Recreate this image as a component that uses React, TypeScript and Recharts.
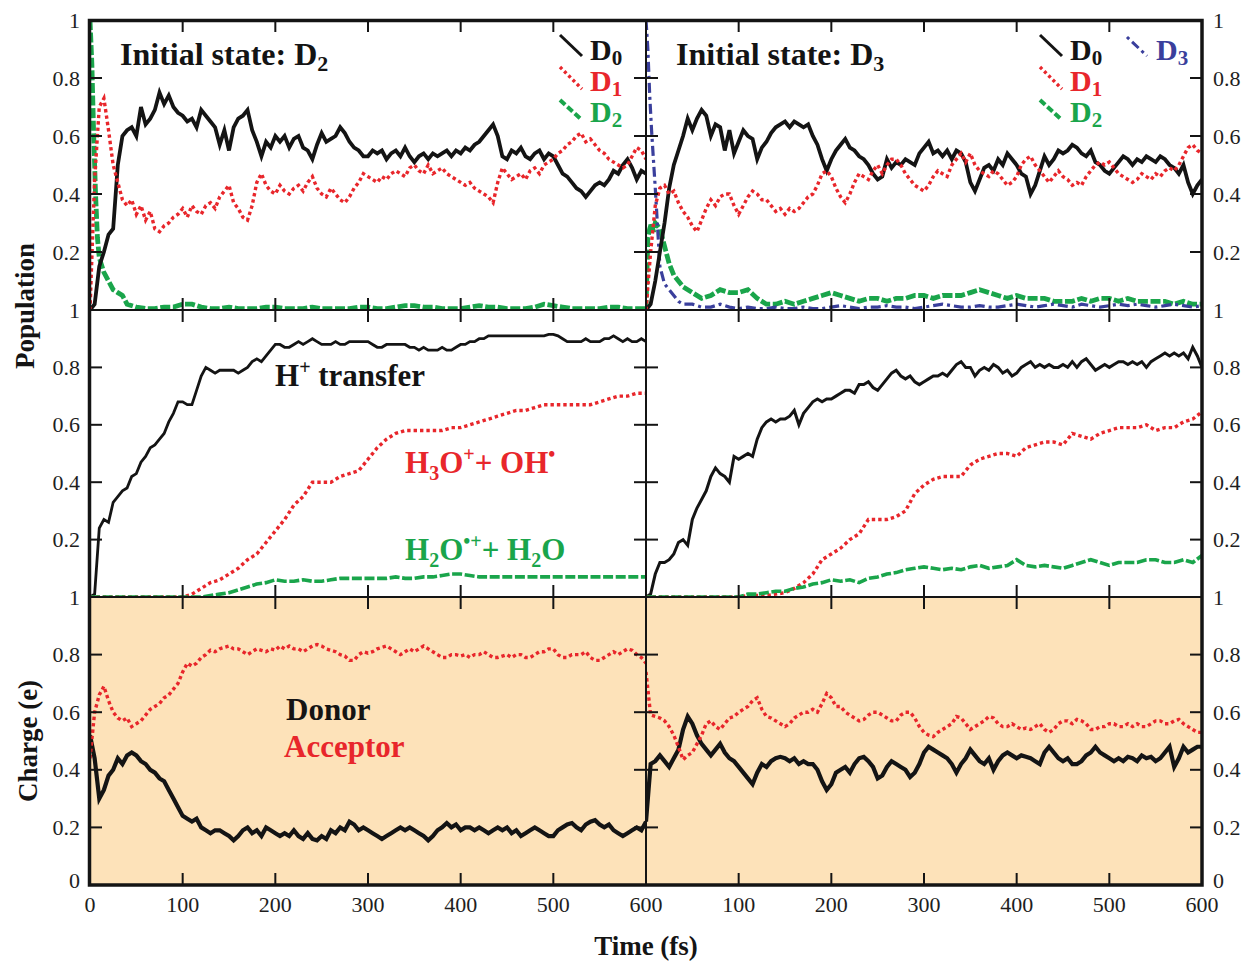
import React from "react";
import { LineChart, Line, XAxis, YAxis, CartesianGrid } from "recharts";

// ---------- time grids (fs) ----------
const T5 = Array.from({ length: 121 }, (_, i) => i * 5);
const T10 = Array.from({ length: 61 }, (_, i) => i * 10);
const TG = [0, 2, 4, 6, 8, 10, 15, 20, 25, 30, 35, 40, ...Array.from({ length: 56 }, (_, i) => 50 + i * 10)];

const X_TICKS = [0, 100, 200, 300, 400, 500, 600];
const Y_TICKS = [0, 0.2, 0.4, 0.6, 0.8, 1];
const Y_LABELS_TOP = [0.2, 0.4, 0.6, 0.8, 1];
const Y_LABELS_BOTTOM = [0, 0.2, 0.4, 0.6, 0.8, 1];
const X_LABELS_LEFT = [0, 100, 200, 300, 400, 500, 600];
const X_LABELS_RIGHT = [100, 200, 300, 400, 500, 600];

// ---------- Initial state D2 : populations (T5 / TG) ----------
const D2_D0 = [
  0, 0.02, 0.15, 0.2, 0.26, 0.28, 0.5, 0.6, 0.62, 0.63,
  0.6, 0.7, 0.64, 0.66, 0.69, 0.75, 0.71, 0.74, 0.7, 0.68,
  0.67, 0.65, 0.66, 0.63, 0.69, 0.67, 0.65, 0.63, 0.57, 0.62,
  0.55, 0.63, 0.66, 0.67, 0.69, 0.62, 0.58, 0.53, 0.58, 0.56,
  0.6, 0.58, 0.6, 0.56, 0.59, 0.6, 0.56, 0.55, 0.52, 0.57,
  0.61, 0.58, 0.59, 0.6, 0.63, 0.61, 0.58, 0.56, 0.55, 0.53,
  0.53, 0.55, 0.54, 0.55, 0.52, 0.54, 0.55, 0.53, 0.56, 0.53,
  0.51, 0.53, 0.54, 0.52, 0.54, 0.53, 0.54, 0.55, 0.53, 0.55,
  0.54, 0.56, 0.55, 0.57, 0.58, 0.6, 0.62, 0.64, 0.6, 0.53,
  0.52, 0.55, 0.54, 0.56, 0.53, 0.52, 0.54, 0.55, 0.52, 0.54,
  0.53, 0.5, 0.47, 0.46, 0.44, 0.42, 0.41, 0.39, 0.41, 0.43,
  0.44, 0.43, 0.45, 0.48, 0.47, 0.5, 0.52, 0.49, 0.45, 0.48,
  0.47,
];
const D2_D1 = [
  0, 0.45, 0.7, 0.73, 0.62, 0.5, 0.44, 0.38, 0.36, 0.38,
  0.33, 0.36, 0.31, 0.34, 0.28, 0.27, 0.29, 0.3, 0.32, 0.33,
  0.35, 0.32, 0.36, 0.34, 0.33, 0.36, 0.37, 0.35, 0.39, 0.41,
  0.43, 0.37, 0.35, 0.32, 0.31, 0.36, 0.44, 0.47, 0.43, 0.41,
  0.4, 0.43, 0.41, 0.4, 0.42, 0.43, 0.41, 0.44, 0.46, 0.42,
  0.4, 0.39, 0.42, 0.4, 0.38, 0.37, 0.39, 0.42, 0.44, 0.47,
  0.46, 0.45, 0.44, 0.46, 0.45, 0.47, 0.48, 0.47, 0.46, 0.49,
  0.5, 0.48, 0.47, 0.5, 0.47, 0.48, 0.49, 0.47, 0.46, 0.45,
  0.44, 0.43, 0.44, 0.42, 0.41, 0.4, 0.39, 0.37, 0.44, 0.49,
  0.47, 0.45, 0.46, 0.47, 0.45, 0.48, 0.49, 0.47, 0.5, 0.51,
  0.52, 0.54, 0.55, 0.57, 0.58, 0.6, 0.61, 0.58, 0.59, 0.57,
  0.55, 0.54, 0.52, 0.51, 0.5, 0.49, 0.5, 0.53, 0.56, 0.55,
  0.52,
];
const D2_D2 = [
  1.0, 0.85, 0.6, 0.4, 0.25, 0.18, 0.13, 0.1, 0.07, 0.06, 0.05, 0.02,
  0.01, 0.005, 0.005, 0.01, 0.01, 0.02, 0.02, 0.01, 0.005, 0.005,
  0.01, 0.005, 0.005, 0.005, 0.01, 0.01, 0.005, 0.005, 0.005, 0.01,
  0.005, 0.005, 0.005, 0.005, 0.01, 0.01, 0.005, 0.005, 0.01, 0.015,
  0.015, 0.01, 0.01, 0.005, 0.005, 0.005, 0.01, 0.015, 0.01, 0.01,
  0.005, 0.005, 0.005, 0.01, 0.02, 0.015, 0.01, 0.005, 0.005, 0.005,
  0.005, 0.01, 0.01, 0.005, 0.005, 0.005,
];

// ---------- Initial state D3 : populations ----------
const D3_D0 = [
  0, 0.02, 0.1, 0.2, 0.3, 0.42, 0.5, 0.55, 0.6, 0.66,
  0.62, 0.66, 0.69, 0.67, 0.6, 0.64, 0.63, 0.55, 0.62, 0.54,
  0.58, 0.62, 0.6, 0.59, 0.52, 0.56, 0.58, 0.61, 0.63, 0.64,
  0.65, 0.63, 0.65, 0.64, 0.63, 0.64, 0.6, 0.57, 0.52, 0.48,
  0.52, 0.55, 0.57, 0.59, 0.56, 0.55, 0.53, 0.52, 0.5, 0.47,
  0.45, 0.46, 0.52, 0.49, 0.51, 0.5, 0.52, 0.51, 0.5, 0.54,
  0.56, 0.58, 0.54, 0.55, 0.53, 0.55, 0.52, 0.55, 0.54, 0.51,
  0.44, 0.41, 0.45, 0.49, 0.5, 0.48, 0.52, 0.5, 0.54, 0.52,
  0.5, 0.47, 0.46, 0.4, 0.43, 0.48, 0.53, 0.5, 0.52, 0.55,
  0.54, 0.55, 0.57, 0.56, 0.54, 0.53, 0.55, 0.51, 0.5, 0.48,
  0.47, 0.49, 0.51, 0.53, 0.52, 0.5, 0.52, 0.51, 0.53, 0.52,
  0.51, 0.53, 0.52, 0.5, 0.49, 0.47, 0.5, 0.44, 0.4, 0.43,
  0.45,
];
const D3_D1 = [
  0, 0.2, 0.36, 0.42, 0.43, 0.4, 0.41, 0.37, 0.34, 0.32,
  0.29, 0.27, 0.31, 0.35, 0.38, 0.36, 0.39, 0.4, 0.4, 0.36,
  0.33, 0.36, 0.39, 0.41, 0.4, 0.38, 0.38, 0.36, 0.34, 0.35,
  0.33, 0.35, 0.34, 0.35, 0.37, 0.39, 0.4, 0.43, 0.47, 0.48,
  0.46, 0.42, 0.39, 0.37, 0.4, 0.44, 0.47, 0.46, 0.45, 0.48,
  0.5, 0.47, 0.5, 0.52, 0.52, 0.5, 0.47, 0.45, 0.43, 0.42,
  0.41, 0.43, 0.46, 0.48, 0.47, 0.46, 0.5, 0.52, 0.54, 0.51,
  0.54, 0.5, 0.48, 0.47, 0.46, 0.48, 0.47, 0.45, 0.43, 0.44,
  0.46, 0.5, 0.52, 0.53, 0.5, 0.48, 0.46, 0.44, 0.46, 0.48,
  0.46, 0.45, 0.43, 0.44, 0.43, 0.46, 0.48, 0.5, 0.51, 0.5,
  0.51, 0.49, 0.47, 0.46, 0.45, 0.44, 0.45, 0.47, 0.46, 0.45,
  0.47, 0.46, 0.48, 0.49, 0.48, 0.5, 0.53, 0.56, 0.57, 0.55,
  0.54,
];
const D3_D2 = [
  0, 0.25, 0.28, 0.3, 0.27, 0.3, 0.28, 0.22, 0.16, 0.12, 0.1, 0.08,
  0.06, 0.04, 0.05, 0.07, 0.06, 0.06, 0.07, 0.04, 0.02, 0.02,
  0.03, 0.02, 0.03, 0.04, 0.05, 0.06, 0.05, 0.04, 0.03, 0.04,
  0.04, 0.03, 0.04, 0.04, 0.05, 0.05, 0.04, 0.05, 0.05, 0.05,
  0.06, 0.07, 0.06, 0.05, 0.04, 0.05, 0.04, 0.04, 0.04, 0.03,
  0.03, 0.03, 0.04, 0.03, 0.04, 0.04, 0.03, 0.04, 0.03, 0.03,
  0.03, 0.03, 0.02, 0.03, 0.02, 0.02,
];
const D3_D3 = [
  1.0, 0.9, 0.74, 0.62, 0.52, 0.42, 0.15, 0.09, 0.07, 0.05, 0.03, 0.02,
  0.02, 0.01, 0.01, 0.02, 0.01, 0.005, 0.01, 0.005, 0.005, 0.01,
  0.005, 0.005, 0.01, 0.005, 0.005, 0.01, 0.015, 0.01, 0.005, 0.01,
  0.01, 0.015, 0.01, 0.01, 0.005, 0.01, 0.015, 0.02, 0.015, 0.01,
  0.01, 0.015, 0.01, 0.01, 0.015, 0.02, 0.015, 0.01, 0.015, 0.02,
  0.015, 0.01, 0.02, 0.015, 0.01, 0.015, 0.02, 0.015, 0.02, 0.015,
  0.01, 0.015, 0.02, 0.015, 0.01, 0.015,
];

// ---------- product populations ----------
const D2_HT = [
  0, 0.01, 0.24, 0.27, 0.26, 0.33, 0.35, 0.37, 0.38, 0.42,
  0.43, 0.47, 0.49, 0.52, 0.53, 0.55, 0.57, 0.61, 0.64, 0.68,
  0.68, 0.67, 0.67, 0.72, 0.77, 0.8, 0.79, 0.78, 0.79, 0.79,
  0.79, 0.79, 0.78, 0.79, 0.8, 0.82, 0.83, 0.82, 0.84, 0.86,
  0.88, 0.88, 0.87, 0.87, 0.88, 0.89, 0.88, 0.89, 0.9, 0.89,
  0.88, 0.88, 0.88, 0.89, 0.88, 0.88, 0.89, 0.89, 0.89, 0.89,
  0.89, 0.88, 0.87, 0.87, 0.88, 0.88, 0.88, 0.88, 0.88, 0.87,
  0.87, 0.86, 0.87, 0.86, 0.86, 0.86, 0.87, 0.86, 0.86, 0.87,
  0.88, 0.88, 0.89, 0.89, 0.9, 0.9, 0.91, 0.91, 0.91, 0.91,
  0.91, 0.91, 0.91, 0.91, 0.91, 0.91, 0.91, 0.91, 0.91, 0.915,
  0.915, 0.91, 0.9, 0.89, 0.89, 0.89, 0.89, 0.9, 0.89, 0.89,
  0.89, 0.9, 0.9, 0.91, 0.9, 0.89, 0.9, 0.89, 0.89, 0.9,
  0.89,
];
const D2_H3O = [
  0, 0, 0, 0, 0, 0, 0, 0, 0, 0, 0,
  0.01, 0.03, 0.05, 0.06, 0.08, 0.1, 0.13, 0.15, 0.19, 0.23,
  0.27, 0.32, 0.35, 0.4, 0.4, 0.4, 0.42, 0.43, 0.44, 0.48,
  0.52, 0.55, 0.57, 0.58, 0.58, 0.58, 0.58, 0.58, 0.59, 0.59,
  0.6, 0.61, 0.62, 0.63, 0.64, 0.65, 0.65, 0.66, 0.67, 0.67,
  0.67, 0.67, 0.67, 0.67, 0.68, 0.69, 0.7, 0.7, 0.71, 0.71,
];
const D2_H2O = [
  0, 0, 0, 0, 0, 0, 0, 0, 0, 0, 0, 0, 0,
  0.005, 0.01, 0.015, 0.025, 0.035, 0.045, 0.05, 0.06,
  0.055, 0.055, 0.06, 0.055, 0.055, 0.06,
  0.065, 0.065, 0.065, 0.065, 0.065, 0.065, 0.07, 0.065, 0.065, 0.07,
  0.07, 0.075, 0.08, 0.08, 0.075, 0.07,
  0.07, 0.07, 0.07, 0.07, 0.07, 0.07, 0.07, 0.07, 0.07, 0.07, 0.07, 0.07, 0.07, 0.07, 0.07, 0.07, 0.07, 0.07,
];
const D3_HT = [
  0, 0.01, 0.08, 0.12, 0.12, 0.13, 0.15, 0.19, 0.2, 0.18,
  0.27, 0.31, 0.34, 0.37, 0.42, 0.45, 0.43, 0.42, 0.4, 0.49,
  0.48, 0.49, 0.5, 0.49, 0.55, 0.59, 0.61, 0.62, 0.61, 0.62,
  0.62, 0.63, 0.65, 0.6, 0.64, 0.66, 0.68, 0.69, 0.68, 0.69,
  0.69, 0.7, 0.71, 0.72, 0.72, 0.71, 0.74, 0.74, 0.75, 0.73,
  0.72, 0.74, 0.76, 0.78, 0.79, 0.77, 0.76, 0.77, 0.75, 0.74,
  0.75, 0.76, 0.77, 0.77, 0.78, 0.77, 0.79, 0.81, 0.82, 0.8,
  0.8, 0.77, 0.79, 0.8, 0.79, 0.81, 0.8, 0.78, 0.79, 0.77,
  0.78, 0.8, 0.81, 0.82, 0.8, 0.81, 0.8, 0.81, 0.8, 0.8,
  0.81, 0.8, 0.82, 0.8, 0.82, 0.83, 0.81, 0.79, 0.8, 0.81,
  0.8, 0.81, 0.82, 0.82, 0.81, 0.82, 0.81, 0.82, 0.8, 0.82,
  0.83, 0.84, 0.85, 0.84, 0.85, 0.84, 0.85, 0.83, 0.87, 0.84,
  0.8,
];
const D3_H3O = [
  0, 0, 0, 0, 0, 0, 0, 0, 0, 0, 0,
  0.005, 0.005, 0.005, 0.01, 0.015, 0.03, 0.05, 0.08, 0.13, 0.15,
  0.17, 0.2, 0.22, 0.27, 0.27, 0.27, 0.28, 0.3, 0.36, 0.39,
  0.41, 0.42, 0.42, 0.42, 0.46, 0.48, 0.49, 0.5, 0.5, 0.49,
  0.52, 0.53, 0.54, 0.54, 0.53, 0.57, 0.56, 0.55, 0.57, 0.58,
  0.59, 0.59, 0.59, 0.6, 0.58, 0.59, 0.59, 0.61, 0.62, 0.645,
];
const D3_H2O = [
  0, 0, 0, 0, 0, 0, 0, 0, 0, 0, 0,
  0.01, 0.01, 0.015, 0.02, 0.02, 0.03, 0.035, 0.045, 0.05, 0.06,
  0.055, 0.06, 0.05, 0.065, 0.07, 0.08, 0.085, 0.095, 0.1, 0.105,
  0.1, 0.095, 0.1, 0.095, 0.105, 0.11, 0.1, 0.105, 0.11, 0.13,
  0.11, 0.105, 0.11, 0.105, 0.1, 0.11, 0.12, 0.13, 0.12, 0.11,
  0.12, 0.12, 0.12, 0.13, 0.13, 0.12, 0.12, 0.13, 0.12, 0.145,
];

// ---------- charges ----------
const D2_DONOR = [
  0.52, 0.44, 0.3, 0.33, 0.38, 0.4, 0.44, 0.42, 0.45, 0.46,
  0.45, 0.43, 0.42, 0.4, 0.39, 0.37, 0.36, 0.33, 0.3, 0.27,
  0.24, 0.23, 0.22, 0.23, 0.2, 0.19, 0.18, 0.19, 0.19, 0.18,
  0.17, 0.155, 0.17, 0.19, 0.2, 0.18, 0.19, 0.17, 0.2, 0.19,
  0.18, 0.17, 0.18, 0.17, 0.19, 0.17, 0.16, 0.18, 0.16, 0.155,
  0.17, 0.16, 0.19, 0.18, 0.2, 0.19, 0.22, 0.21, 0.19, 0.2,
  0.19, 0.18, 0.17, 0.16, 0.17, 0.18, 0.19, 0.2, 0.19, 0.2,
  0.19, 0.18, 0.17, 0.155, 0.17, 0.19, 0.2, 0.215, 0.2, 0.21,
  0.19, 0.2, 0.2, 0.19, 0.2, 0.19, 0.18, 0.19, 0.2, 0.19,
  0.2, 0.18, 0.19, 0.17, 0.18, 0.19, 0.2, 0.19, 0.18, 0.17,
  0.17, 0.19, 0.2, 0.21, 0.215, 0.2, 0.19, 0.21, 0.22, 0.225,
  0.21, 0.2, 0.21, 0.19, 0.18, 0.17, 0.18, 0.19, 0.2, 0.19,
  0.22,
];
const D2_ACCEPTOR = [
  0.44, 0.6, 0.66, 0.69, 0.64, 0.6, 0.58, 0.57, 0.58, 0.55,
  0.56, 0.57, 0.59, 0.61, 0.62, 0.63, 0.65, 0.66, 0.68, 0.7,
  0.74, 0.77, 0.76, 0.77, 0.79, 0.8, 0.815, 0.81, 0.82, 0.825,
  0.83, 0.82, 0.82, 0.81, 0.8, 0.81, 0.82, 0.815, 0.81, 0.82,
  0.815, 0.83, 0.82, 0.83, 0.82, 0.82, 0.81, 0.82, 0.83, 0.835,
  0.83, 0.82, 0.815, 0.81, 0.8, 0.795, 0.78, 0.78, 0.8, 0.81,
  0.805, 0.81, 0.82, 0.825, 0.83, 0.82, 0.81, 0.8, 0.81, 0.82,
  0.81, 0.82, 0.83, 0.82, 0.81, 0.8, 0.79, 0.79, 0.8, 0.8,
  0.795, 0.8, 0.79, 0.8, 0.8, 0.81, 0.8, 0.79, 0.79, 0.795,
  0.8, 0.79, 0.8, 0.8, 0.79, 0.79, 0.8, 0.81, 0.81, 0.82,
  0.82, 0.8, 0.79, 0.79, 0.8, 0.8, 0.8, 0.81, 0.79, 0.78,
  0.78, 0.79, 0.8, 0.81, 0.8, 0.81, 0.82, 0.815, 0.8, 0.79,
  0.77,
];
const D3_DONOR = [
  0.22, 0.42, 0.43, 0.45, 0.43, 0.41, 0.44, 0.47, 0.54, 0.585,
  0.56, 0.52, 0.49, 0.47, 0.45, 0.47, 0.49, 0.46, 0.44, 0.43,
  0.41, 0.39, 0.37, 0.35, 0.39, 0.42, 0.41, 0.43, 0.44, 0.445,
  0.44, 0.43, 0.44, 0.42, 0.43, 0.42, 0.42, 0.4, 0.36, 0.33,
  0.35, 0.39, 0.4, 0.41, 0.39, 0.42, 0.44, 0.445, 0.43, 0.41,
  0.37, 0.38, 0.41, 0.43, 0.42, 0.41, 0.4, 0.375, 0.39, 0.42,
  0.46, 0.48, 0.47, 0.46, 0.45, 0.44, 0.42, 0.39, 0.42, 0.44,
  0.47, 0.45, 0.43, 0.42, 0.44, 0.4, 0.43, 0.45, 0.46, 0.45,
  0.44, 0.45, 0.445, 0.44, 0.43, 0.42, 0.46, 0.48, 0.46, 0.44,
  0.43, 0.44, 0.42, 0.42, 0.43, 0.45, 0.46, 0.48, 0.46, 0.45,
  0.44, 0.43, 0.44, 0.43, 0.445, 0.44, 0.43, 0.45, 0.44, 0.445,
  0.43, 0.44, 0.46, 0.48, 0.41, 0.44, 0.48, 0.46, 0.47, 0.48,
  0.48,
];
const D3_ACCEPTOR = [
  0.74, 0.59, 0.585, 0.58, 0.57, 0.55, 0.52, 0.48, 0.435, 0.45,
  0.46, 0.49, 0.52, 0.56, 0.57, 0.55, 0.54, 0.56, 0.58, 0.585,
  0.6, 0.61, 0.62, 0.64, 0.65, 0.61, 0.585, 0.58, 0.57, 0.56,
  0.55, 0.56, 0.58, 0.59, 0.6, 0.6, 0.61, 0.6, 0.63, 0.665,
  0.65, 0.62, 0.62, 0.6, 0.59, 0.58, 0.57, 0.575, 0.59, 0.6,
  0.6, 0.59, 0.58, 0.57, 0.57, 0.59, 0.6, 0.6, 0.58, 0.55,
  0.53, 0.52, 0.515, 0.53, 0.54, 0.55, 0.56, 0.585, 0.58, 0.56,
  0.54, 0.55, 0.56, 0.57, 0.585, 0.58, 0.56, 0.55, 0.55, 0.56,
  0.55, 0.54, 0.545, 0.54, 0.55, 0.56, 0.54, 0.53, 0.54, 0.56,
  0.57, 0.57, 0.56, 0.575, 0.57, 0.56, 0.54, 0.54, 0.55, 0.55,
  0.56, 0.56, 0.55, 0.55, 0.56, 0.55, 0.56, 0.55, 0.55, 0.56,
  0.57, 0.57, 0.56, 0.56, 0.57, 0.575, 0.56, 0.55, 0.54, 0.53,
  0.53,
];

// ---------- styles ----------
const FONT = "'Liberation Serif', 'Times New Roman', Times, serif";
const BLACK = "#141414";
const RED = "#e8262b";
const GREEN = "#1aa54b";
const BLUE = "#3a3f9c";
const BEIGE = "#fde2b9";
const PAD = 60;
const TICK = 12;

const pts = (ts: number[], vs: number[]) => ts.map((t, i) => ({ t, v: vs[i] }));
const fmt = (v: number) => (v === 0 ? "0" : v === 1 ? "1" : v.toFixed(1));

type S = { data: { t: number; v: number }[]; color: string; width: number; dash?: string };

const solid = (data: any, w = 3.8): S => ({ data, color: BLACK, width: w });
const dotted = (data: any): S => ({ data, color: RED, width: 3.4, dash: "3.4 3" });
const dashed = (data: any, w = 4.2): S => ({ data, color: GREEN, width: w, dash: "10 2.6" });
const dashdot = (data: any): S => ({ data, color: BLUE, width: 3.2, dash: "10 4 3 4" });

function Panel(props: {
  px: number; py: number; w: number; h: number; series: S[];
  leftLabels?: number[]; rightLabels?: number[]; bottomLabels?: number[]; bg?: string;
}) {
  const { px, py, w, h, series, leftLabels, rightLabels, bottomLabels, bg } = props;
  const x0 = PAD, x1 = PAD + w, y0 = PAD, y1 = PAD + h;
  const axisLine = { stroke: BLACK, strokeWidth: 2 };
  const lab = { fontFamily: FONT, fontSize: 22, fill: "#1e1e1e" } as any;
  return (
    <div style={{ position: "absolute", left: px - PAD, top: py - PAD }}>
      <LineChart width={w + 2 * PAD} height={h + 2 * PAD} margin={{ top: 0, right: 0, bottom: 0, left: 0 }}>
        {bg && <CartesianGrid xAxisId="b" yAxisId="l" fill={bg} fillOpacity={1} stroke="none" horizontal={false} vertical={false} />}
        <XAxis
          xAxisId="b" orientation="bottom" type="number" dataKey="t" domain={[0, 600]} ticks={X_TICKS}
          interval={0} height={PAD} axisLine={axisLine} tickLine={false} allowDataOverflow
          tick={(p: any) => {
            const v = p.payload.value;
            return (
              <g>
                {v > 0 && v < 600 && <line x1={p.x} x2={p.x} y1={y1} y2={y1 - TICK} stroke={BLACK} strokeWidth={2} />}
                {bottomLabels && bottomLabels.includes(v) && (
                  <text x={p.x} y={y1 + 27} textAnchor="middle" {...lab}>{v}</text>
                )}
              </g>
            );
          }}
        />
        <XAxis
          xAxisId="t" orientation="top" type="number" dataKey="t" domain={[0, 600]} ticks={X_TICKS}
          interval={0} height={PAD} axisLine={axisLine} tickLine={false} allowDataOverflow
          tick={(p: any) => {
            const v = p.payload.value;
            return <g>{v > 0 && v < 600 && <line x1={p.x} x2={p.x} y1={y0} y2={y0 + TICK} stroke={BLACK} strokeWidth={2} />}</g>;
          }}
        />
        <YAxis
          yAxisId="l" orientation="left" type="number" domain={[0, 1]} ticks={Y_TICKS} interval={0}
          width={PAD} axisLine={axisLine} tickLine={false} allowDataOverflow
          tick={(p: any) => {
            const v = p.payload.value;
            return (
              <g>
                {v > 0 && v < 1 && <line x1={x0} x2={x0 + TICK} y1={p.y} y2={p.y} stroke={BLACK} strokeWidth={2} />}
                {leftLabels && leftLabels.includes(v) && (
                  <text x={x0 - 10} y={p.y + (v === 0 ? 3 : 7.5)} textAnchor="end" {...lab}>{fmt(v)}</text>
                )}
              </g>
            );
          }}
        />
        <YAxis
          yAxisId="r" orientation="right" type="number" domain={[0, 1]} ticks={Y_TICKS} interval={0}
          width={PAD} axisLine={axisLine} tickLine={false} allowDataOverflow
          tick={(p: any) => {
            const v = p.payload.value;
            return (
              <g>
                {v > 0 && v < 1 && <line x1={x1 - TICK} x2={x1} y1={p.y} y2={p.y} stroke={BLACK} strokeWidth={2} />}
                {rightLabels && rightLabels.includes(v) && (
                  <text x={x1 + 11} y={p.y + (v === 0 ? 3 : 7.5)} textAnchor="start" {...lab}>{fmt(v)}</text>
                )}
              </g>
            );
          }}
        />
        {series.map((s, i) => (
          <Line
            key={i} xAxisId="b" yAxisId="l" data={s.data} dataKey="v" type="linear"
            stroke={s.color} strokeWidth={s.width} strokeDasharray={s.dash}
            dot={false} activeDot={false} isAnimationActive={false} strokeLinejoin="miter"
          />
        ))}
      </LineChart>
    </div>
  );
}

const LX = 90, RX = 646, W = 556;
const ROWS = [
  { y: 20, h: 290 },
  { y: 310, h: 287 },
  { y: 597, h: 288 },
];

export default function App() {
  const bold = { fontFamily: FONT, fontWeight: 700 } as any;
  return (
    <div style={{ position: "absolute", left: 0, top: 0, width: 1243, height: 961, background: "#fff" }}>
      {/* Top row: populations */}
      <Panel px={LX} py={ROWS[0].y} w={W} h={ROWS[0].h} leftLabels={Y_LABELS_TOP}
        series={[dashed(pts(TG, D2_D2), 4.8), solid(pts(T5, D2_D0)), dotted(pts(T5, D2_D1))]} />
      <Panel px={RX} py={ROWS[0].y} w={W} h={ROWS[0].h} rightLabels={Y_LABELS_TOP}
        series={[dashed(pts(TG, D3_D2), 4.8), dashdot(pts(TG, D3_D3)), solid(pts(T5, D3_D0)), dotted(pts(T5, D3_D1))]} />
      {/* Middle row: products */}
      <Panel px={LX} py={ROWS[1].y} w={W} h={ROWS[1].h} leftLabels={Y_LABELS_TOP}
        series={[solid(pts(T5, D2_HT), 2.8), dotted(pts(T10, D2_H3O)), dashed(pts(T10, D2_H2O), 3.6)]} />
      <Panel px={RX} py={ROWS[1].y} w={W} h={ROWS[1].h} rightLabels={Y_LABELS_TOP}
        series={[solid(pts(T5, D3_HT), 3), dotted(pts(T10, D3_H3O)), dashed(pts(T10, D3_H2O), 3.6)]} />
      {/* Bottom row: charges */}
      <Panel px={LX} py={ROWS[2].y} w={W} h={ROWS[2].h} leftLabels={Y_LABELS_BOTTOM} bottomLabels={X_LABELS_LEFT} bg={BEIGE}
        series={[solid(pts(T5, D2_DONOR), 4.2), dotted(pts(T5, D2_ACCEPTOR))]} />
      <Panel px={RX} py={ROWS[2].y} w={W} h={ROWS[2].h} rightLabels={Y_LABELS_BOTTOM} bottomLabels={X_LABELS_RIGHT} bg={BEIGE}
        series={[solid(pts(T5, D3_DONOR), 4.2), dotted(pts(T5, D3_ACCEPTOR))]} />

      <svg width={1243} height={961} style={{ position: "absolute", left: 0, top: 0, pointerEvents: "none" }}>
        <rect x={89.5} y={20.5} width={1112.5} height={864.5} fill="none" stroke={BLACK} strokeWidth={3.5} />

        {/* axis titles */}
        <text transform="translate(34,306) rotate(-90)" textAnchor="middle" fontSize={27} fill={BLACK} {...bold}>Population</text>
        <text transform="translate(37,741) rotate(-90)" textAnchor="middle" fontSize={27} fill={BLACK} {...bold}>Charge (e)</text>
        <text x={646} y={955} textAnchor="middle" fontSize={27} fill={BLACK} {...bold}>Time (fs)</text>

        {/* top-left annotations */}
        <text x={120} y={65} fontSize={32} fill={BLACK} {...bold}>Initial state: D<tspan fontSize={22} dy={6}>2</tspan></text>
        <line x1={560} y1={35} x2={582} y2={56} stroke={BLACK} strokeWidth={3} />
        <line x1={560} y1={67} x2={582} y2={89} stroke={RED} strokeWidth={3.4} strokeDasharray="3 3" />
        <line x1={560} y1={100} x2={582} y2={120} stroke={GREEN} strokeWidth={4} strokeDasharray="7 3" />
        <text x={590} y={60} fontSize={30} fill={BLACK} {...bold}>D<tspan fontSize={21} dy={5}>0</tspan></text>
        <text x={590} y={91} fontSize={30} fill={RED} {...bold}>D<tspan fontSize={21} dy={5}>1</tspan></text>
        <text x={590} y={122} fontSize={30} fill={GREEN} {...bold}>D<tspan fontSize={21} dy={5}>2</tspan></text>

        {/* top-right annotations */}
        <text x={676} y={65} fontSize={32} fill={BLACK} {...bold}>Initial state: D<tspan fontSize={22} dy={6}>3</tspan></text>
        <line x1={1040} y1={35} x2={1062} y2={56} stroke={BLACK} strokeWidth={3} />
        <line x1={1040} y1={67} x2={1062} y2={89} stroke={RED} strokeWidth={3.4} strokeDasharray="3 3" />
        <line x1={1040} y1={100} x2={1062} y2={120} stroke={GREEN} strokeWidth={4} strokeDasharray="7 3" />
        <line x1={1127} y1={37} x2={1147} y2={56} stroke={BLUE} strokeWidth={3} strokeDasharray="3 4 9 4" />
        <text x={1070} y={60} fontSize={30} fill={BLACK} {...bold}>D<tspan fontSize={21} dy={5}>0</tspan></text>
        <text x={1070} y={91} fontSize={30} fill={RED} {...bold}>D<tspan fontSize={21} dy={5}>1</tspan></text>
        <text x={1070} y={122} fontSize={30} fill={GREEN} {...bold}>D<tspan fontSize={21} dy={5}>2</tspan></text>
        <text x={1156} y={60} fontSize={30} fill={BLUE} {...bold}>D<tspan fontSize={21} dy={5}>3</tspan></text>

        {/* middle-left annotations */}
        <text x={275} y={386} fontSize={31} fill={BLACK} {...bold}>H<tspan fontSize={20} dy={-12}>+</tspan><tspan dy={12}> transfer</tspan></text>
        <text x={405} y={473} fontSize={31} fill={RED} {...bold}>
          H<tspan fontSize={20} dy={7}>3</tspan><tspan dy={-7}>O</tspan><tspan fontSize={20} dy={-12}>+</tspan><tspan dy={12}>+ OH</tspan><tspan fontSize={20} dy={-12}>•</tspan>
        </text>
        <text x={405} y={560} fontSize={31} fill={GREEN} {...bold}>
          H<tspan fontSize={20} dy={7}>2</tspan><tspan dy={-7}>O</tspan><tspan fontSize={20} dy={-12}>•+</tspan><tspan dy={12}>+ H</tspan><tspan fontSize={20} dy={7}>2</tspan><tspan dy={-7}>O</tspan>
        </text>

        {/* bottom-left annotations */}
        <text x={286} y={720} fontSize={31} fill={BLACK} {...bold}>Donor</text>
        <text x={284} y={757} fontSize={31} fill={RED} {...bold}>Acceptor</text>
      </svg>
    </div>
  );
}
